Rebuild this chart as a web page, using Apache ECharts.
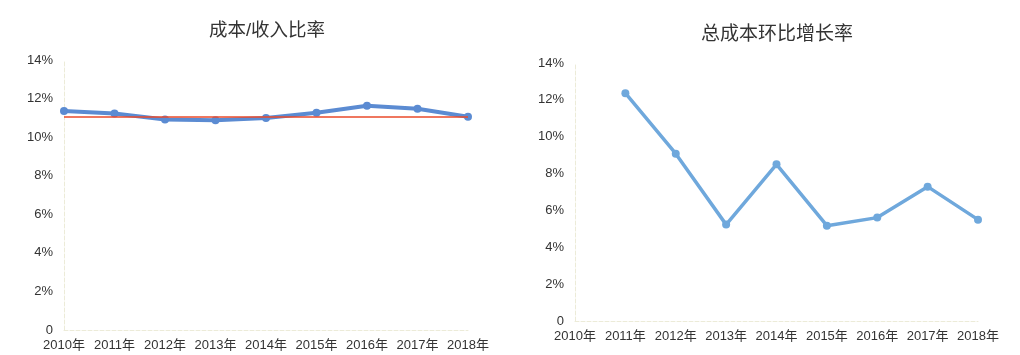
<!DOCTYPE html>
<html><head><meta charset="utf-8">
<script src="https://cdn.jsdelivr.net/npm/echarts@6/dist/echarts.min.js"></script>
<style>html,body{margin:0;padding:0;background:#fff}#c{width:1020px;height:355px}</style>
</head><body><div id="c"></div>
<script>
const categories = ['2010年','2011年','2012年','2013年','2014年','2015年','2016年','2017年','2018年'];
const costIncomeRatio = [11.35, 11.23, 10.92, 10.87, 10.99, 11.27, 11.63, 11.47, 11.06];
const referenceLevel = 11.04;
const costGrowth = [null, 12.36, 9.08, 5.23, 8.50, 5.17, 5.61, 7.29, 5.50];
const yTicks = [0, 2, 4, 6, 8, 10, 12, 14];

const font = '"Liberation Sans", Arial, "Noto Sans CJK SC", sans-serif';
const chart = echarts.init(document.getElementById('c'));
function xAxis(gi) {
  return {
    type: 'category', gridIndex: gi, data: categories, boundaryGap: false,
    axisLine: { lineStyle: { color: '#ecebd8', type: 'dashed' } },
    axisTick: { show: false },
    axisLabel: { color: '#333', fontSize: 13, fontFamily: font, margin: 9, interval: 0 },
    splitLine: { show: false }
  };
}
function yAxis(gi) {
  return {
    type: 'value', gridIndex: gi, min: 0, max: 14, interval: 2,
    axisLine: { show: true, lineStyle: { color: '#ecebd8', type: 'dashed' } },
    axisTick: { show: false },
    splitLine: { show: false },
    axisLabel: { color: '#333', fontSize: 13, fontFamily: font, margin: 11,
      formatter: v => yTicks.includes(v) ? (v === 0 ? '0' : v + '%') : '' }
  };
}
chart.setOption({
  animation: false,
  title: [
    { text: '成本/收入比率', left: 262, top: 17, textAlign: 'center',
      textStyle: { fontSize: 18.5, fontWeight: 'normal', color: '#333', fontFamily: font } },
    { text: '总成本环比增长率', left: 772, top: 20, textAlign: 'center',
      textStyle: { fontSize: 19, fontWeight: 'normal', color: '#333', fontFamily: font } }
  ],
  grid: [
    { left: 64, right: 552, top: 60, bottom: 25 },
    { left: 575, right: 42, top: 63, bottom: 34 }
  ],
  xAxis: [xAxis(0), xAxis(1)],
  yAxis: [yAxis(0), yAxis(1)],
  series: [
    {
      type: 'line', xAxisIndex: 0, yAxisIndex: 0, data: costIncomeRatio,
      symbol: 'circle', symbolSize: 8,
      lineStyle: { color: '#5b8bd2', width: 4 },
      itemStyle: { color: '#5b8bd2' },
      markLine: {
        silent: true, symbol: 'none', label: { show: false },
        lineStyle: { color: '#ea4a2a', width: 1.6, type: 'solid' },
        data: [{ yAxis: referenceLevel }]
      },
      z: 2
    },
    {
      type: 'line', xAxisIndex: 1, yAxisIndex: 1, data: costGrowth,
      symbol: 'circle', symbolSize: 8,
      lineStyle: { color: '#6fa8dc', width: 3.5 },
      itemStyle: { color: '#6fa8dc' }
    }
  ]
});
</script></body></html>
